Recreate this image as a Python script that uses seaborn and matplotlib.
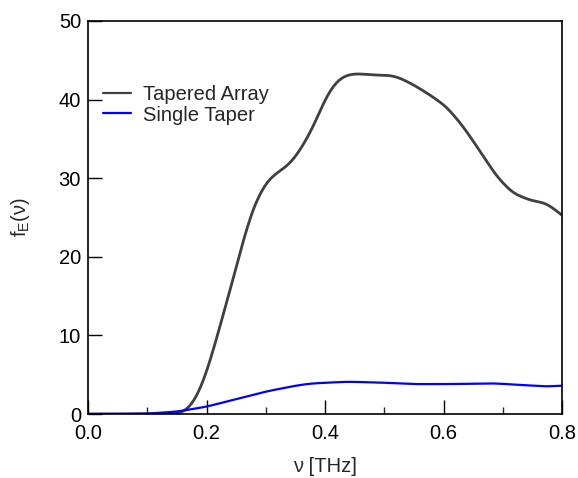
import numpy as np
import pandas as pd
import matplotlib
matplotlib.use("Agg")
import matplotlib.pyplot as plt
import seaborn as sns
from matplotlib.ticker import MultipleLocator, FormatStrFormatter

# Data
freq_array = [0.0, 0.05, 0.10, 0.14, 0.155, 0.167, 0.178, 0.189, 0.20, 0.2115, 0.225, 0.24, 0.262,
              0.28, 0.30, 0.315, 0.33, 0.345, 0.36, 0.38, 0.395, 0.41, 0.425, 0.44, 0.455,
              0.47, 0.49, 0.51, 0.525, 0.549, 0.577, 0.605, 0.633, 0.662, 0.69, 0.717,
              0.746, 0.774, 0.8]
tapered_array = [0.0, 0.0, 0.0, 0.0, 0.1, 0.5, 1.5, 3.05, 5.3, 8.1, 11.8, 15.8, 22.1,
                 26.5, 29.4, 30.5, 31.2, 32.2, 33.8, 36.5, 39.2, 41.4, 42.7, 43.2, 43.3,
                 43.2, 43.1, 43.1, 42.8, 41.9, 40.6, 39.1, 36.6, 33.4, 30.2, 28.1,
                 27.2, 26.8, 25.3]

freq_single = [0.0, 0.05, 0.10, 0.15, 0.2, 0.245, 0.3, 0.33, 0.358, 0.38, 0.437, 0.493,
               0.549, 0.605, 0.684, 0.73, 0.774, 0.8]
single_taper = [0.0, 0.0, 0.05, 0.3, 0.93, 1.8, 2.85, 3.3, 3.7, 3.9, 4.1, 4.0,
                3.8, 3.8, 3.9, 3.7, 3.5, 3.6]

labels = ["Tapered Array", "Single Taper"]


def smooth(x, y, n=400, sigma=4):
    xs = np.linspace(min(x), max(x), n)
    ys = np.interp(xs, x, y)
    k = np.arange(-3 * sigma, 3 * sigma + 1)
    ker = np.exp(-0.5 * (k / sigma) ** 2)
    ker /= ker.sum()
    h = len(k) // 2
    ypad = np.concatenate([np.full(h, ys[0]), ys, 2 * ys[-1] - ys[-2:-h - 2:-1]])
    ys = np.convolve(ypad, ker, mode="valid")
    return xs, ys


xa, ya = smooth(freq_array, tapered_array)
xs_, ys_ = smooth(freq_single, single_taper)
df = pd.concat([
    pd.DataFrame({"nu": xa, "f": ya, "series": labels[0]}),
    pd.DataFrame({"nu": xs_, "f": ys_, "series": labels[1]}),
])

sns.set_style("ticks")
plt.rcParams["font.family"] = ["Liberation Sans", "DejaVu Sans"]
plt.rcParams["mathtext.default"] = "regular"

FS = 14.5
fig = plt.figure(figsize=(5.78, 4.78), dpi=100)
ax = fig.add_axes([88 / 578, 1 - 414 / 478, (562 - 88) / 578, (414 - 21) / 478])

sns.lineplot(data=df, x="nu", y="f", hue="series", sort=False,
             palette={labels[0]: "#404040", labels[1]: "#0000ff"}, ax=ax,
             legend=True)
for line, lw in zip(ax.get_lines(), [2.0, 1.6]):
    line.set_linewidth(lw)

ax.set_xlim(0, 0.8)
ax.set_ylim(0, 50)
ax.xaxis.set_major_locator(MultipleLocator(0.2))
ax.xaxis.set_minor_locator(MultipleLocator(0.1))
ax.yaxis.set_major_locator(MultipleLocator(10))
ax.xaxis.set_major_formatter(FormatStrFormatter("%.1f"))
ax.tick_params(axis="both", which="major", direction="in", length=10, width=1,
               labelsize=FS, colors="black")
ax.tick_params(axis="x", which="major", pad=7)
ax.tick_params(axis="y", which="major", pad=5)
ax.tick_params(axis="x", which="minor", direction="in", length=5, width=1)
ax.tick_params(top=False, right=False)
for s in ax.spines.values():
    s.set_linewidth(1.2)
    s.set_color("black")

ax.set_xlabel("ν [THz]", fontsize=FS)
ax.xaxis.set_label_coords(0.5, -(466 - 414) / (414 - 21))
ax.xaxis.label.set_va("center")
ax.set_ylabel("f$_E$(ν)", fontsize=FS)
ax.yaxis.set_label_coords(-(88 - 20) / (562 - 88), 0.5)
ax.yaxis.label.set_va("center")

leg = ax.legend(loc="center left", bbox_to_anchor=(0.0, 1 - (105 - 21) / (414 - 21)),
                frameon=False, fontsize=FS, handlelength=1.4, handletextpad=0.6,
                labelspacing=0.05, borderaxespad=0.35)
for h in leg.get_lines():
    h.set_linewidth(1.6)

fig.savefig("out.png", dpi=100)
